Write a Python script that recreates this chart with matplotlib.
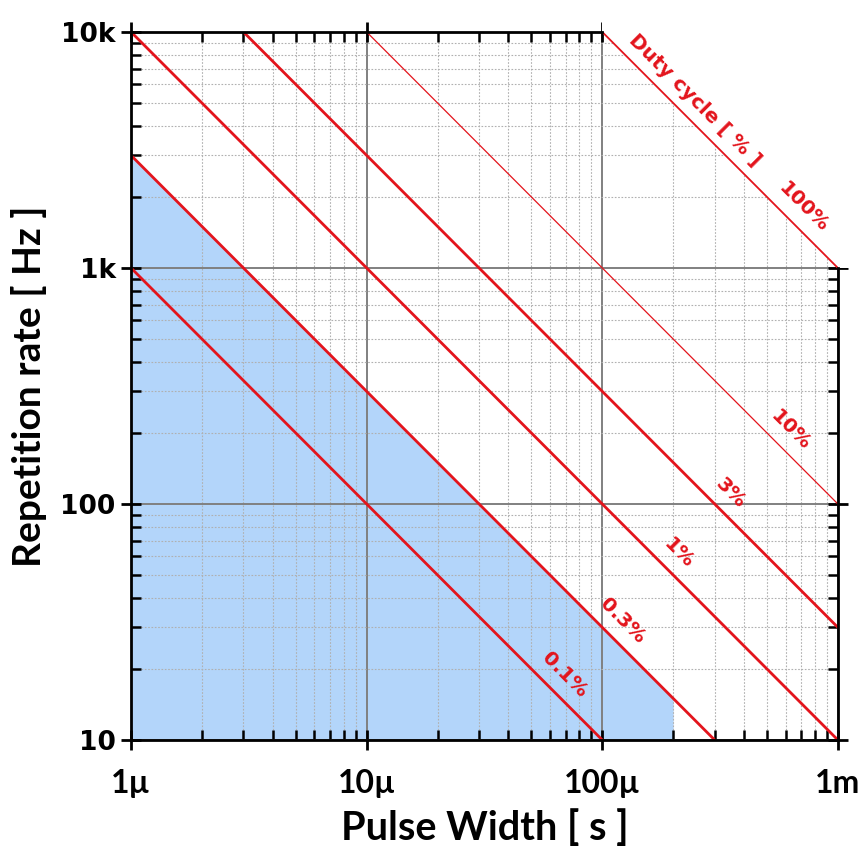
import matplotlib.pyplot as plt
import matplotlib.ticker as ticker
import numpy as np

# duty cycle lines: repetition rate = duty / pulse width
duty_pct = [0.1, 0.3, 1, 3, 10, 100]
duty_labels = ["0.1%", "0.3%", "1%", "3%", "10%", "100%"]
label_x = [69e-6, 122e-6, 210e-6, 352e-6, 632e-6, 718e-6]
line_widths = [2.0, 2.0, 2.0, 2.0, 0.9, 1.3]

# shaded region: below the 0.3% line up to 200 us
shade_duty_pct = 0.3
shade_max_width = 200e-6

x_ticks = [1e-6, 1e-5, 1e-4, 1e-3]
x_tick_labels = ["1\u00b5", "10\u00b5", "100\u00b5", "1m"]
y_ticks = [10, 100, 1000, 10000]
y_tick_labels = ["10", "100", "1k", "10k"]

red = "#e3141c"

fig = plt.figure(figsize=(8.62, 8.52), dpi=100)
ax = fig.add_axes([0.152, 0.1315, 0.820, 0.831])
ax.set_xscale("log")
ax.set_yscale("log")
ax.set_xlim(1e-6, 1e-3)
ax.set_ylim(10, 1e4)
ax.set_axisbelow(True)

# blue area
xs = np.array([1e-6, shade_max_width])
ax.fill_between(xs, shade_duty_pct / 100 / xs, 1, color="#b3d5fa", lw=0, zorder=0.4)

# grid
ax.grid(True, which="major", color="#808080", lw=1.4, ls="-")
ax.grid(True, which="minor", color="#b0b0b0", lw=0.8, ls=(0, (1.5, 1.5)))

# white corner above the 100% line
corner = plt.Polygon([(1e-4, 1e4), (1e-4, 1.4e4), (1.4e-3, 1.4e4), (1.4e-3, 1e3), (1e-3, 1e3)],
                     closed=True, color="white", lw=0, zorder=0.6, clip_on=False)
ax.add_patch(corner)

# duty cycle lines
x_line = np.array([1e-7, 1e-2])
for d, lw in zip(duty_pct, line_widths):
    ax.plot(x_line, d / 100 / x_line, color=red, lw=lw, zorder=2, solid_capstyle="butt")

for d, lab, lx in zip(duty_pct, duty_labels, label_x):
    ax.text(lx, d / 100 / lx * 1.3, lab, color=red, fontsize=14.5, family="DejaVu Sans",
            fontweight="bold", rotation=-45, ha="center", va="center",
            rotation_mode="anchor", zorder=3)

ax.text(248e-6, 1 / 248e-6 * 1.27, "Duty cycle [ % ]", color=red, fontsize=14.5,
        family="DejaVu Sans", fontweight="bold", rotation=-45, ha="center", va="center",
        rotation_mode="anchor", zorder=3, clip_on=False)

# spines
for s in ["left", "bottom", "top", "right"]:
    ax.spines[s].set_linewidth(2)
    ax.spines[s].set_color("black")
ax.spines["top"].set_bounds(1e-6, 1e-4)
ax.spines["right"].set_bounds(10, 1000)

# ticks
ax.xaxis.set_major_locator(ticker.FixedLocator(x_ticks))
ax.yaxis.set_major_locator(ticker.FixedLocator(y_ticks))
ax.xaxis.set_minor_locator(ticker.LogLocator(base=10, subs=np.arange(2, 10)))
ax.yaxis.set_minor_locator(ticker.LogLocator(base=10, subs=np.arange(2, 10)))
ax.xaxis.set_minor_formatter(ticker.NullFormatter())
ax.yaxis.set_minor_formatter(ticker.NullFormatter())
ax.set_xticklabels(x_tick_labels, fontsize=23, family="Lato", fontweight="bold")
ax.set_yticklabels(y_tick_labels, fontsize=19, family="DejaVu Sans", fontweight="bold")
ax.tick_params(which="major", direction="inout", length=14, width=2, top=True, right=True)
ax.tick_params(axis="x", which="major", pad=14)
ax.tick_params(axis="y", which="major", pad=4)
ax.tick_params(which="minor", direction="in", length=7, width=1.8, top=True, right=True)

ax.set_xlabel("Pulse Width [ s ]", fontsize=28.5, family="Lato", fontweight="bold", labelpad=8)
ax.set_ylabel("Repetition rate [ Hz ]", fontsize=28, family="Lato", fontweight="bold", labelpad=10)

fig.savefig("out.png", dpi=100)
